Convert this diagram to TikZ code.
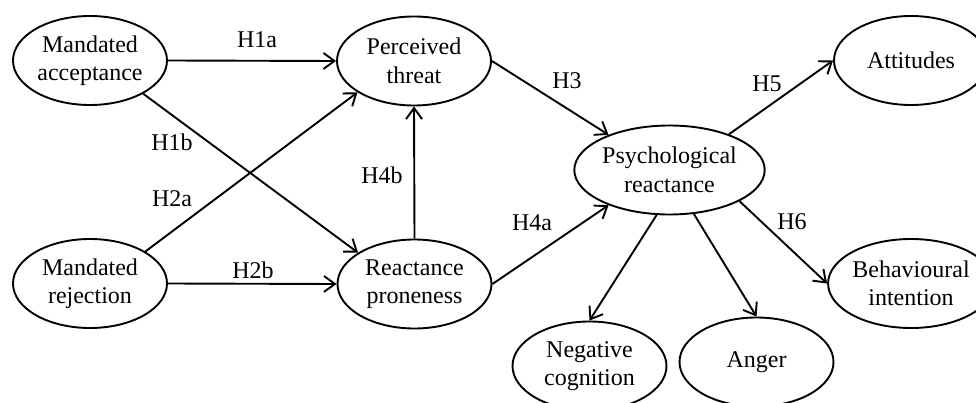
\documentclass[tikz,border=0pt]{standalone}
\usepackage{fontspec}
\setmainfont{Liberation Serif}
\usetikzlibrary{shapes.geometric,arrows.meta}
\begin{document}
\begin{tikzpicture}[x=1pt,y=-1pt,
  var/.style={ellipse,draw,line width=1.9pt,minimum width=154pt,minimum height=89pt,inner sep=0pt,align=center,font=\fontsize{24}{28.5}\selectfont},
  hyp/.style={font=\fontsize{24}{28}\selectfont,inner sep=0pt},
  link/.style={line width=1.9pt,-{Straight Barb[length=11pt,width=16pt]}}]
\useasboundingbox (0,0) rectangle (976,403);
\clip (0,0) rectangle (976,403);
\node[var] (MA) at (90,60.5) {Mandated\\acceptance};
\node[var] (PT) at (414,61) {Perceived\\threat};
\node[var] (PR) at (669.5,170) {Psychological\\reactance};
\node[var] (AT) at (911,60.5) {Attitudes};
\node[var] (MR) at (90,283.5) {Mandated\\rejection};
\node[var] (RP) at (414.5,284) {Reactance\\proneness};
\node[var] (BI) at (911,283.5) {Behavioural\\intention};
\node[var] (NC) at (589.5,366) {Negative\\cognition};
\node[var] (AN) at (756.5,362) {Anger};
\draw[link] (MA.east) -- (PT.west);
\draw[link] (MA.328) -- (RP.151);
\draw[link] (MR.30) -- (PT.209);
\draw[link] (MR.east) -- (RP.west);
\draw[link] (RP.north) -- (PT.south);
\draw[link] (PT.east) -- (PR.150);
\draw[link] (RP.east) -- (PR.210);
\draw[link] (PR.31) -- (AT.west);
\draw[link] (PR.336) -- (BI.west);
\draw[link] (PR.254) -- (NC.north);
\draw[link] (PR.299) -- (AN.north);
\node[hyp] (h1a) at (257,40) {H1a};
\node[hyp] (h1b) at (172,142) {H1b};
\node[hyp] (h2a) at (172,198.5) {H2a};
\node[hyp] (h2b) at (253,270) {H2b};
\node[hyp] (h4b) at (382,175) {H4b};
\node[hyp] (h3) at (567,81) {H3};
\node[hyp] (h4a) at (532,222.5) {H4a};
\node[hyp] (h5) at (767,84) {H5};
\node[hyp] (h6) at (792,222) {H6};
\end{tikzpicture}
\end{document}
